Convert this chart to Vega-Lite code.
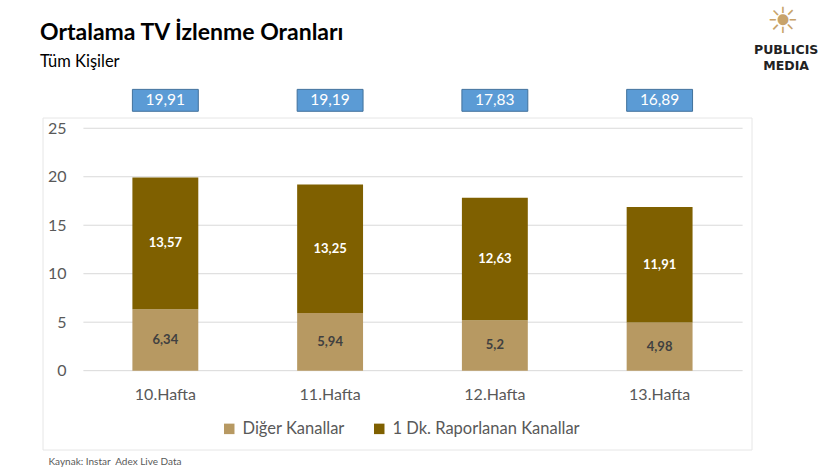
{
  "$schema": "https://vega.github.io/schema/vega-lite/v6.json",
  "autosize": "none",
  "padding": {"left": 42.5, "top": 117.5, "right": 78.5, "bottom": 20.5},
  "width": 709,
  "height": 332,
  "background": "white",
  "title": {
    "text": "Ortalama TV İzlenme Oranları",
    "subtitle": "Tüm Kişiler",
    "anchor": "start",
    "frame": "group",
    "font": "Lato",
    "fontSize": 23,
    "fontWeight": "bold",
    "color": "#000000",
    "subtitleFont": "Lato",
    "subtitleFontSize": 16.5,
    "subtitleColor": "#000000",
    "subtitlePadding": 9,
    "dx": -2.5,
    "offset": -67
  },
  "config": {
    "locale": {"number": {"decimal": ",", "thousands": ".", "grouping": [3], "currency": ["", " ₺"]}},
    "view": {"stroke": "#E6E6E6", "strokeWidth": 1},
    "font": "Lato"
  },
  "data": {
    "values": [
      {"week": "10.Hafta", "series": "Diğer Kanallar", "value": 6.34},
      {"week": "10.Hafta", "series": "1 Dk. Raporlanan Kanallar", "value": 13.57},
      {"week": "11.Hafta", "series": "Diğer Kanallar", "value": 5.94},
      {"week": "11.Hafta", "series": "1 Dk. Raporlanan Kanallar", "value": 13.25},
      {"week": "12.Hafta", "series": "Diğer Kanallar", "value": 5.2},
      {"week": "12.Hafta", "series": "1 Dk. Raporlanan Kanallar", "value": 12.63},
      {"week": "13.Hafta", "series": "Diğer Kanallar", "value": 4.98},
      {"week": "13.Hafta", "series": "1 Dk. Raporlanan Kanallar", "value": 11.91}
    ]
  },
  "encoding": {
    "x": {
      "field": "week",
      "type": "nominal",
      "sort": null,
      "scale": {"domain": ["10.Hafta", "11.Hafta", "12.Hafta", "13.Hafta"], "paddingInner": 0.6, "paddingOuter": 0.4517, "align": 0.604},
      "axis": {
        "orient": "bottom",
        "offset": -65,
        "domain": false,
        "ticks": false,
        "tickSize": 0,
        "grid": false,
        "labelAngle": 0,
        "labelFont": "Lato",
        "labelFontSize": 16,
        "labelColor": "#595959",
        "labelPadding": 2,
        "title": "Kaynak: Instar \u00a0Adex Live Data",
        "titleFont": "Lato",
        "titleFontSize": 10,
        "titleFontWeight": "normal",
        "titleColor": "#595959",
        "titleAnchor": "start",
        "titleAlign": "left",
        "titleBaseline": "alphabetic",
        "titleX": 5.5,
        "titleY": 80
      }
    }
  },
  "layer": [
    {
      "data": {"values": [{"g": 0}, {"g": 5}, {"g": 10}, {"g": 15}, {"g": 20}, {"g": 25}]},
      "mark": {"type": "rule", "color": "#D9D9D9", "strokeWidth": 1, "xOffset": -49, "x2Offset": 83},
      "encoding": {
        "x": {"datum": "10.Hafta", "bandPosition": 0},
        "x2": {"datum": "13.Hafta"},
        "y": {
          "field": "g",
          "type": "quantitative",
          "scale": {"domain": [-8.13, 26.11], "nice": false, "zero": false},
          "axis": {
            "values": [0, 5, 10, 15, 20, 25],
            "domain": false,
            "ticks": false,
            "tickSize": 0,
            "grid": false,
            "labelPadding": -23.5,
            "labelFont": "Lato",
            "labelFontSize": 16,
            "labelColor": "#595959",
            "title": null
          }
        }
      }
    },
    {
      "mark": {"type": "bar"},
      "encoding": {
        "y": {"field": "value", "type": "quantitative", "stack": "zero"},
        "color": {
          "field": "series",
          "type": "nominal",
          "scale": {"domain": ["Diğer Kanallar", "1 Dk. Raporlanan Kanallar"], "range": ["#B79962", "#7F6000"]},
          "legend": {
            "orient": "none",
            "legendX": 178.5,
            "legendY": 303,
            "direction": "horizontal",
            "title": null,
            "symbolType": "square",
            "symbolSize": 110,
            "symbolStrokeWidth": 0,
            "labelFont": "Lato",
            "labelFontSize": 16.5,
            "labelColor": "#595959",
            "labelOffset": 5,
            "labelLimit": 400,
            "columnPadding": 26
          }
        },
        "order": {"field": "series", "sort": "descending"}
      }
    },
    {
      "transform": [
        {"stack": "value", "groupby": ["week"], "sort": [{"field": "series", "order": "descending"}], "as": ["lo", "hi"]},
        {"fold": ["lo", "hi"], "as": ["k", "b"]}
      ],
      "mark": {"type": "text", "font": "Lato", "fontSize": 13, "fontWeight": "bold"},
      "encoding": {
        "y": {"field": "b", "aggregate": "mean", "type": "quantitative", "stack": null},
        "detail": {"field": "series"},
        "text": {"field": "value", "aggregate": "max", "format": ".2~f"},
        "color": {"condition": {"test": "datum.series === 'Diğer Kanallar'", "value": "#404040"}, "value": "#FFFFFF"}
      }
    },
    {
      "transform": [{"aggregate": [{"op": "sum", "field": "value", "as": "total"}], "groupby": ["week"]}],
      "mark": {"type": "rect", "fill": "#5B9BD5", "stroke": "#41719C", "strokeWidth": 1},
      "encoding": {
        "y": {"datum": 26.75},
        "y2": {"datum": 29.01}
      }
    },
    {
      "transform": [{"aggregate": [{"op": "sum", "field": "value", "as": "total"}], "groupby": ["week"]}],
      "mark": {"type": "text", "font": "Lato", "fontSize": 15.5, "color": "#FFFFFF", "baseline": "middle"},
      "encoding": {
        "y": {"datum": 27.88},
        "text": {"field": "total", "type": "quantitative", "format": ".2f"}
      }
    },
    {
      "data": {"values": [{}]},
      "mark": {"type": "text", "text": "☀", "font": "DejaVu Sans", "fontSize": 36, "color": "#C8A36A", "baseline": "middle"},
      "encoding": {
        "x": {"datum": "13.Hafta", "bandPosition": 2.37},
        "y": {"datum": 36.0}
      }
    },
    {
      "data": {"values": [{}]},
      "mark": {"type": "text", "text": "PUBLICIS", "font": "DejaVu Sans", "fontSize": 12.5, "fontWeight": "bold", "color": "#222222", "baseline": "middle"},
      "encoding": {
        "x": {"datum": "13.Hafta", "bandPosition": 2.42},
        "y": {"datum": 33.05}
      }
    },
    {
      "data": {"values": [{}]},
      "mark": {"type": "text", "text": "MEDIA", "font": "DejaVu Sans", "fontSize": 12.5, "fontWeight": "bold", "color": "#222222", "baseline": "middle"},
      "encoding": {
        "x": {"datum": "13.Hafta", "bandPosition": 2.42},
        "y": {"datum": 31.4}
      }
    }
  ]
}
